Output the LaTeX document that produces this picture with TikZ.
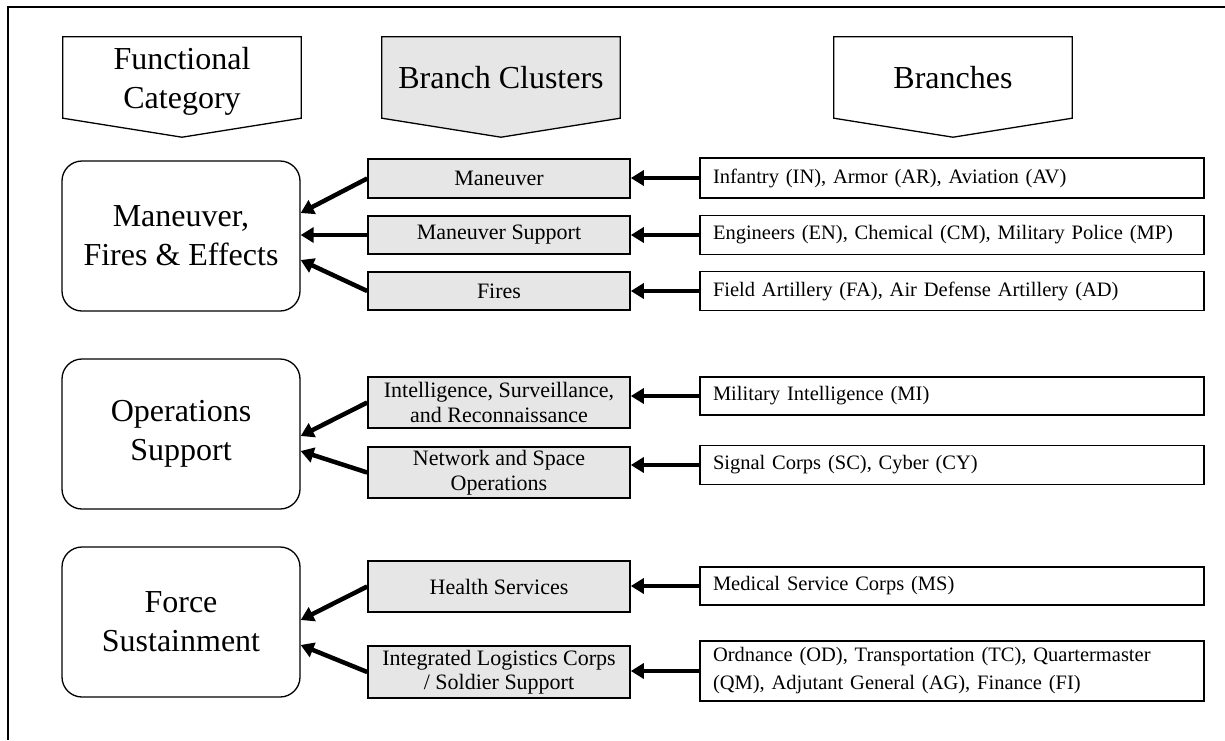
\documentclass[tikz,border=0pt]{standalone}
\usepackage{fontspec}
\setmainfont{Liberation Serif}
\usetikzlibrary{arrows.meta,backgrounds}
\definecolor{clusterfill}{RGB}{231,230,230}
\begin{document}
\begin{tikzpicture}[x=1pt,y=-1pt,
  hdr/.style={minimum width=238pt,minimum height=81pt,inner sep=0pt,align=center,
    font=\fontsize{32}{39}\selectfont},
  hshape/.style={draw,line width=1.3pt},
  cat/.style={draw,line width=1.3pt,rounded corners=20pt,minimum width=238pt,
    minimum height=150pt,inner sep=0pt,align=center,font=\fontsize{32}{39}\selectfont},
  clus/.style={draw,line width=1.6pt,fill=clusterfill,minimum width=262pt,inner sep=0pt,
    align=center,font=\fontsize{22}{24.5}\selectfont},
  brn/.style={draw,line width=1.6pt,text width=478pt,inner xsep=13pt,inner ysep=0pt,
    align=left,font=\fontsize{20.5}{28}\selectfont},
  arr/.style={line width=4.5pt,-{Triangle[length=13pt,width=15pt]}}
]
\useasboundingbox (0,0) rectangle (1225,740);

% outer frame (left and top edges)
\coordinate (fbl) at (8,740);
\coordinate (ftl) at (8,7);
\coordinate (ftr) at (1225,7);
\draw[line width=1.6pt] (fbl) -- (ftl) -- (ftr);

% column headers; the two-line title sits a little lower in its box
\node[hdr] (hFC) at (182,81) {Functional\\Category};
\node[hdr] (hBC) at (501,78) {Branch Clusters};
\node[hdr] (hBR) at (953,78) {Branches};
\begin{scope}[on background layer]
  \foreach \h/\f/\s in {hFC/white/3.5pt,hBC/clusterfill/0.5pt,hBR/white/0.5pt}
    \draw[hshape,fill=\f] ([yshift=\s]\h.north west) -- ([yshift=\s]\h.north east)
      -- ([yshift=\s]\h.south east) -- ([yshift=\s-19pt]\h.south)
      -- ([yshift=\s]\h.south west) -- cycle;
\end{scope}

% functional categories
\node[cat] (cMFE) at (181,236) {Maneuver,\\Fires \& Effects};
\node[cat] (cOPS) at (181,434) {Operations\\Support};
\node[cat] (cFS)  at (181,622) {Force\\Sustainment};

% branch clusters
\node[clus,minimum height=39pt] (kMan) at (499,178.5) {Maneuver};
\node[clus,minimum height=38pt] (kMS)  at (499,235) {Maneuver Support};
\node[clus,minimum height=38pt] (kFir) at (499,291) {Fires};
\node[clus,minimum height=51pt] (kISR) at (499,402.5) {Intelligence, Surveillance,\\and Reconnaissance};
\node[clus,minimum height=51pt] (kNet) at (499,472.5) {Network and Space\\Operations};
\node[clus,minimum height=51pt] (kHea) at (499,586.5) {Health Services};
\node[clus,minimum height=52pt] (kILC) at (499,672) {Integrated Logistics Corps\\/ Soldier Support};

% branches
\node[brn,minimum height=40pt] (bIn)  at (952,178) {Infantry (IN), Armor (AR), Aviation (AV)};
\node[brn,minimum height=39pt] (bEn)  at (952,235) {Engineers (EN), Chemical (CM), Military Police (MP)};
\node[brn,minimum height=39pt] (bFA)  at (952,291) {Field Artillery (FA), Air Defense Artillery (AD)};
\node[brn,minimum height=38pt] (bMI)  at (952,396) {Military Intelligence (MI)};
\node[brn,minimum height=39pt] (bSig) at (952,465) {Signal Corps (SC), Cyber (CY)};
\node[brn,minimum height=38pt] (bMed) at (952,586) {Medical Service Corps (MS)};
\node[brn,minimum height=60pt] (bOrd) at (952,671) {Ordnance (OD), Transportation (TC), Quartermaster\\(QM), Adjutant General (AG), Finance (FI)};

% branches feed their clusters
\foreach \b/\k in {bIn/kMan,bEn/kMS,bFA/kFir,bMI/kISR,bSig/kNet,bMed/kHea,bOrd/kILC}
  \draw[arr] (\b.west) -- (\b.west -| \k.east);

% clusters feed their functional categories
\draw[arr] (kMan.west) -- ([yshift=23pt]cMFE.east);
\draw[arr] (kMS.west)  -- (kMS.west -| cMFE.east);
\draw[arr] (kFir.west) -- ([yshift=-24pt]cMFE.east);
\draw[arr] (kISR.west) -- ([yshift=-2pt]cOPS.east);
\draw[arr] (kNet.west) -- ([yshift=-17pt]cOPS.east);
\draw[arr] (kHea.west) -- ([yshift=2pt]cFS.east);
\draw[arr] (kILC.west) -- ([yshift=-23pt]cFS.east);
\end{tikzpicture}
\end{document}
